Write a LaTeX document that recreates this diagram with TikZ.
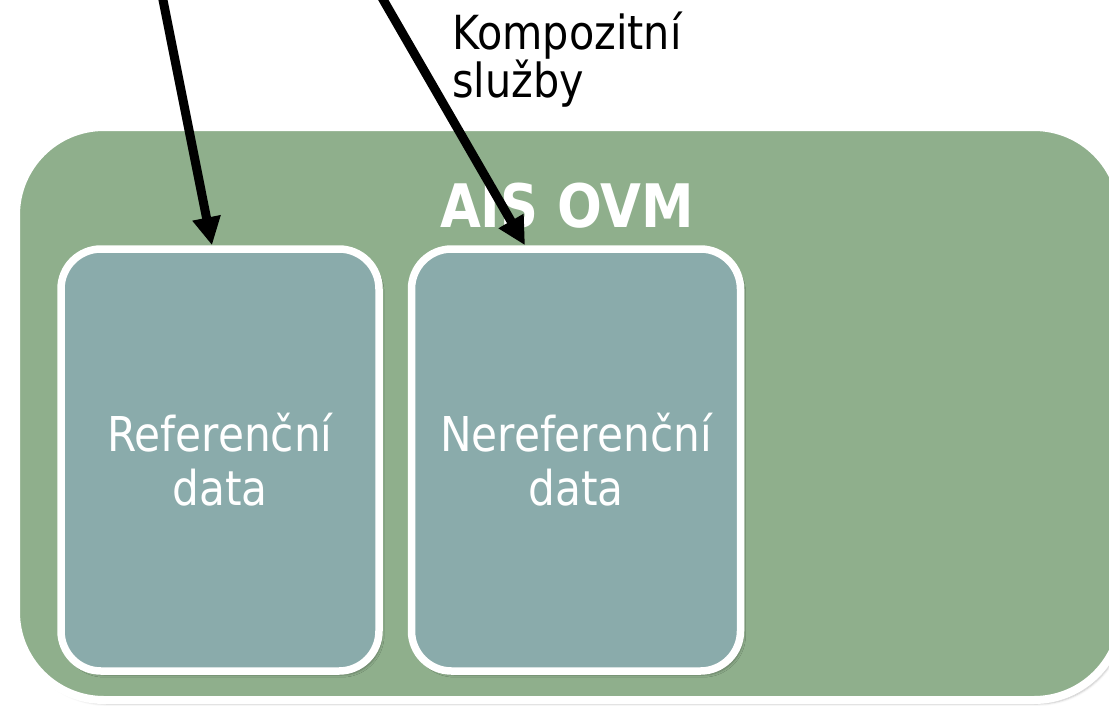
\documentclass[tikz,border=0pt]{standalone}
\usepackage{fontspec}
\setmainfont{DejaVu Sans}[FakeStretch=0.88]
\usetikzlibrary{positioning,arrows.meta,shadows.blur}
\definecolor{aisgreen}{RGB}{143,175,140}
\definecolor{datateal}{RGB}{138,171,171}

\begin{document}
\begin{tikzpicture}[x=1pt, y=-1pt,
    system/.style = {draw=white, line width=8pt, fill=aisgreen, rounded corners=88pt, minimum width=1106pt, minimum height=573pt, blur shadow={shadow xshift=3pt, shadow yshift=-4pt, shadow opacity=25}},
    databox/.style = {draw=white, line width=7.5pt, fill=datateal, rounded corners=40pt, minimum height=422pt, text=white, align=center, font=\fontsize{48}{54}\selectfont, blur shadow={shadow xshift=3pt, shadow yshift=-4pt, shadow opacity=30}},
    callarrow/.style = {line width=9pt, -{Triangle[length=28pt, width=27pt]}}]
    \useasboundingbox (0,0) rectangle (1109,705);
    \node[system] (ais) at (569,413.5) {};
    \node[databox, minimum width=318pt] (ref) at (220,460) {Referenční\\data};
    \node[databox, minimum width=329pt, right=25pt of ref] (nref) {Nereferenční\\data};
    \node[anchor=base, text=white, font=\bfseries\fontsize{60}{62}\selectfont] (aisname) at (567,227) {AIS OVM};
    \node[anchor=base west, align=left, inner sep=0pt, font=\fontsize{47}{48}\selectfont] (komp) at (452,97) {Kompozitní\\služby};
    \coordinate (src1) at (157,-30);
    \coordinate (src2) at (366,-30);
    \draw[callarrow] (src1) -- ([xshift=-8pt]ref.north);
    \draw[callarrow] (src2) -- ([xshift=-51pt]nref.north);
\end{tikzpicture}
\end{document}
